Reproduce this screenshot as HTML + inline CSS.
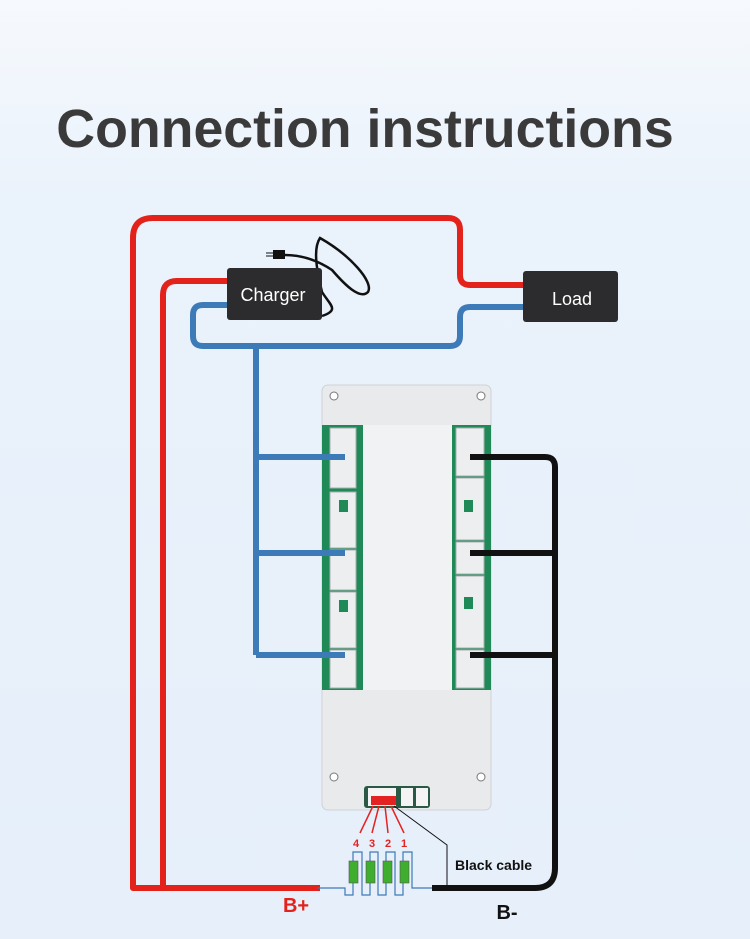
<!DOCTYPE html>
<html><head><style>
body{margin:0;width:750px;height:939px;overflow:hidden;background:linear-gradient(#f6f9fd 0px,#eaf2fb 200px,#e6effa 939px);font-family:"Liberation Sans",sans-serif}
</style></head><body>
<svg width="750" height="939" viewBox="0 0 750 939" xmlns="http://www.w3.org/2000/svg" style="position:absolute;left:0;top:0">
<text x="365" y="147" text-anchor="middle" font-size="53.7" font-weight="bold" fill="#3a3a3a" font-family="Liberation Sans, sans-serif">Connection instructions</text>
<rect x="322" y="385" width="169" height="425" rx="6" fill="#e9eaec" stroke="#cfd2d6"/>
<rect x="322" y="425" width="41" height="265" fill="#1f8a58"/>
<rect x="452" y="425" width="39" height="265" fill="#1f8a58"/>
<rect x="363" y="425" width="89" height="265" fill="#f1f2f3"/>
<g fill="#eceeef" stroke="#a9adb1">
<rect x="330" y="428" width="26" height="60"/><rect x="330" y="492" width="26" height="56"/><rect x="330" y="550" width="26" height="40"/><rect x="330" y="592" width="26" height="56"/><rect x="330" y="650" width="26" height="38"/>
<rect x="456" y="428" width="28" height="48"/><rect x="456" y="478" width="28" height="62"/><rect x="456" y="542" width="28" height="32"/><rect x="456" y="576" width="28" height="72"/><rect x="456" y="650" width="28" height="38"/>
</g>
<g fill="#1f8a58"><rect x="339" y="500" width="9" height="12"/><rect x="339" y="600" width="9" height="12"/><rect x="464" y="500" width="9" height="12"/><rect x="464" y="597" width="9" height="12"/></g>
<circle cx="334" cy="396" r="4" fill="#fff" stroke="#777"/><circle cx="481" cy="396" r="4" fill="#fff" stroke="#777"/>
<circle cx="334" cy="777" r="4" fill="#fff" stroke="#777"/><circle cx="481" cy="777" r="4" fill="#fff" stroke="#777"/>
<rect x="364" y="786" width="66" height="22" rx="3" fill="#2a5a45"/>
<rect x="368" y="788" width="28" height="18" fill="#f4f4f4"/><rect x="401" y="788" width="12" height="18" fill="#f4f4f4"/><rect x="416" y="788" width="12" height="18" fill="#f4f4f4"/>
<rect x="371" y="796" width="25" height="9" fill="#e52222"/>
<g fill="none" stroke-width="6" stroke-linejoin="round">
<path d="M318 888 H133 V238 Q133 218 153 218 H448 Q460 218 460 230 V275 Q460 285 470 285 H523" stroke="#e3231b"/>
<path d="M320 888 H163 V295 Q163 281 177 281 H228" stroke="#e3231b"/>
<path d="M228 305 H203 Q193 305 193 315 V336 Q193 346 203 346 H450 Q460 346 460 336 V317 Q460 307 470 307 H523" stroke="#3d7ab8"/>
<path d="M256 346 V655 M256 457 H345 M256 553 H345 M256 655 H345" stroke="#3d7ab8"/>
<path d="M470 457 H545 Q555 457 555 467 V868 Q555 888 535 888 H432 M470 553 H555 M470 655 H555" stroke="#111"/>
</g>
<rect x="273" y="250" width="12" height="9" fill="#111"/>
<path d="M266 253 H273 M266 256 H273" stroke="#111" stroke-width="1"/>
<path d="M285 255 C305 255 320 262 332 270 C345 285 360 300 368 292 C374 282 350 255 320 238 C312 250 318 275 322 292 C330 305 340 310 322 316" fill="none" stroke="#111" stroke-width="2.5"/>
<rect x="227" y="268" width="95" height="52" rx="3" fill="#2c2c2e"/>
<text x="273" y="301" text-anchor="middle" font-size="18" fill="#fff" font-family="Liberation Sans, sans-serif">Charger</text>
<rect x="523" y="271" width="95" height="51" rx="3" fill="#2c2c2e"/>
<text x="572" y="305" text-anchor="middle" font-size="18" fill="#fff" font-family="Liberation Sans, sans-serif">Load</text>
<g stroke="#e52222" stroke-width="1.5"><path d="M373 806 L360 833 M379 806 L372 833 M385 806 L388 833 M391 806 L404 833"/></g>
<path d="M394 806 L447 845 V888" fill="none" stroke="#111" stroke-width="1"/>
<g font-size="11" font-weight="bold" fill="#e52222" text-anchor="middle"><text x="356" y="847">4</text><text x="372" y="847">3</text><text x="388" y="847">2</text><text x="404" y="847">1</text></g>
<path d="M318 888 H345 V895 H353 V852 H362 V895 H370 V852 H378 V895 H386 V852 H395 V895 H403 V852 H412 V888 H432" fill="none" stroke="#3d7ab8" stroke-width="1.2"/>
<g fill="#3fae2f" stroke="#555" stroke-width="0.6"><rect x="349" y="861" width="9" height="22"/><rect x="366" y="861" width="9" height="22"/><rect x="383" y="861" width="9" height="22"/><rect x="400" y="861" width="9" height="22"/></g>
<text x="455" y="870" font-size="14" font-weight="bold" fill="#111" font-family="Liberation Sans, sans-serif">Black cable</text>
<text x="296" y="912" text-anchor="middle" font-size="20" font-weight="bold" fill="#e3231b" font-family="Liberation Sans, sans-serif">B+</text>
<text x="507" y="919" text-anchor="middle" font-size="20" font-weight="bold" fill="#111" font-family="Liberation Sans, sans-serif">B-</text>
</svg>
</body></html>
